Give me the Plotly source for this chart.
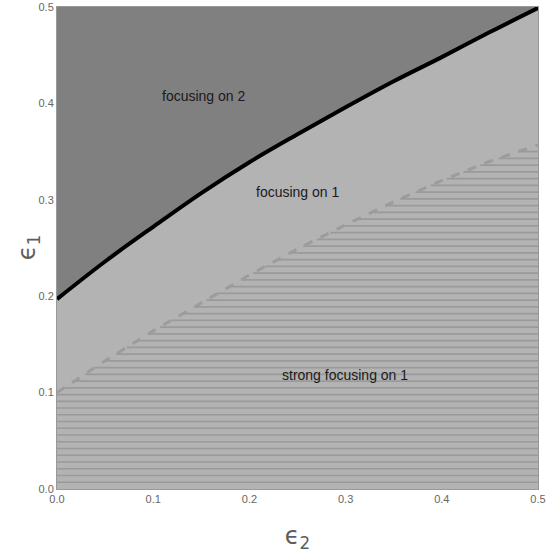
import numpy as np
import plotly.graph_objects as go

# Boundary between "focusing on 2" and "focusing on 1" (solid black)
eps2 = [0.0, 0.05, 0.1, 0.15, 0.2, 0.25, 0.3, 0.35, 0.4, 0.45, 0.5]
eps1_focus2 = [0.197, 0.236, 0.272, 0.307, 0.339, 0.368, 0.396, 0.423, 0.448, 0.474, 0.499]
# Boundary of "strong focusing on 1" (dashed gray)
eps1_strong = [0.100, 0.133, 0.164, 0.193, 0.222, 0.249, 0.274, 0.298, 0.320, 0.340, 0.357]

labels = ["focusing on 2", "focusing on 1", "strong focusing on 1"]
label_x = [0.152, 0.2495, 0.2994]
label_y = [0.408, 0.308, 0.118]

tick_vals = [0.0, 0.1, 0.2, 0.3, 0.4, 0.5]
tick_text = ["0.0", "0.1", "0.2", "0.3", "0.4", "0.5"]

hatch_step = 0.007

DARK = "#808080"
LIGHT = "#b3b3b3"
TITLE_FONT = dict(family="DejaVu Sans", size=24, color="#5e5e5e")

fig = go.Figure()

fig.add_trace(go.Scatter(
    x=eps2, y=eps1_focus2, mode="lines", fill="tozeroy",
    fillcolor=LIGHT, line=dict(color="black", width=4, shape="spline"),
    hoverinfo="skip", showlegend=False))

# horizontal hatching below the dashed boundary (region to the right of / below it)
hx, hy = [], []
for yl in np.arange(hatch_step, max(eps1_strong), hatch_step):
    xs = float(np.interp(yl, eps1_strong, eps2)) if yl > eps1_strong[0] else eps2[0]
    hx += [xs, eps2[-1], None]
    hy += [yl, yl, None]
fig.add_trace(go.Scatter(
    x=hx, y=hy, mode="lines", line=dict(color="#9a9a9a", width=1.7),
    hoverinfo="skip", showlegend=False))

fig.add_trace(go.Scatter(
    x=eps2, y=eps1_strong, mode="lines",
    line=dict(color="#9c9c9c", width=3, dash="dash"),
    hoverinfo="skip", showlegend=False))

for t, x, y in zip(labels, label_x, label_y):
    fig.add_annotation(x=x, y=y, text=t, showarrow=False,
                       font=dict(family="Liberation Sans, Arial", size=14, color="#1a1a1a"))

# y-axis title
fig.add_annotation(xref="paper", yref="paper", x=-0.06, y=0.5, text="ϵ<sub>1</sub>",
                   textangle=-90, showarrow=False, font=TITLE_FONT,
                   xanchor="center", yanchor="middle")

axis_common = dict(
    range=[0, 0.5], tickvals=tick_vals, ticktext=tick_text,
    showgrid=False, zeroline=False, showline=True, mirror=True,
    linecolor="#999999", linewidth=1, ticks="", automargin=False,
    tickfont=dict(family="Liberation Sans, Arial", size=11, color="#666666"),
)

fig.update_layout(
    width=547, height=554,
    margin=dict(l=57, r=9, t=7, b=65),
    plot_bgcolor=DARK, paper_bgcolor="white",
    xaxis=dict(**axis_common, title=dict(text="ϵ<sub>2</sub>", standoff=22, font=TITLE_FONT)),
    yaxis=dict(**axis_common),
)

fig.write_html("out.html", config={"displayModeBar": False},
               post_script="document.body.style.margin='0';document.body.style.overflow='hidden';")
